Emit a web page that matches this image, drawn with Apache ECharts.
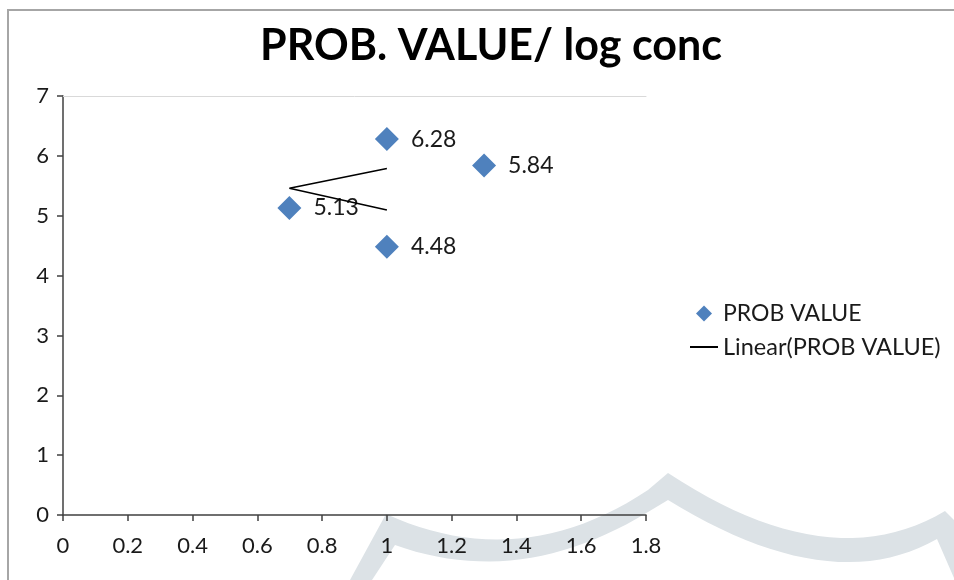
<!DOCTYPE html>
<html>
<head>
<meta charset="utf-8">
<script src="https://cdn.jsdelivr.net/npm/echarts@6/dist/echarts.min.js"></script>
<style>html,body{margin:0;padding:0;background:#fff}#c{width:954px;height:580px}</style>
</head>
<body>
<div id="c"></div>
<script>
// ---- data ----
var titleText = 'PROB. VALUE/ log conc';
var seriesName = 'PROB VALUE';
var trendName = 'Linear(PROB VALUE)';
var logConc = [0.699, 1, 1.3, 1];
var probValue = [5.13, 6.28, 5.84, 4.48];
var trendX = [1, 0.699, 1];
var trendY = [5.79, 5.46, 5.095];
var xTickLabels = ['0', '0.2', '0.4', '0.6', '0.8', '1', '1.2', '1.4', '1.6', '1.8'];
var yTickLabels = ['0', '1', '2', '3', '4', '5', '6', '7'];

var FONT = 'Lato';
var chart = echarts.init(document.getElementById('c'), null, {renderer: 'canvas'});

var scatterData = logConc.map(function (x, i) { return [x, probValue[i]]; });
var trendData = trendX.map(function (x, i) { return [x, trendY[i]]; });

// decorative background swoosh (not data)
function quad(pts, p0, c, p1) {
  for (var k = 1; k <= 24; k++) {
    var t = k / 24, u = 1 - t;
    pts.push([u * u * p0[0] + 2 * u * t * c[0] + t * t * p1[0],
              u * u * p0[1] + 2 * u * t * c[1] + t * t * p1[1]]);
  }
}
var sw = [[350, 580], [386, 514]];
quad(sw, [386, 514], [520, 575], [648, 490]);
sw.push([668, 473]);
quad(sw, [668, 473], [830, 580], [945, 511]);
sw.push([954, 520], [954, 578], [937, 539]);
quad(sw, [937, 539], [830, 600], [668, 500]);
sw.push([648, 512]);
quad(sw, [648, 512], [520, 590], [395, 545]);
sw.push([372, 580]);

var option = {
  backgroundColor: '#ffffff',
  animation: false,
  textStyle: {fontFamily: FONT},
  title: {
    text: titleText,
    left: 486, top: 20, textAlign: 'center',
    textStyle: {fontFamily: FONT, fontWeight: 'bold', fontSize: 43, color: '#000'}
  },
  legend: [{
    data: [{name: seriesName, icon: 'diamond'}],
    left: 696, top: 302, orient: 'vertical', padding: 0,
    itemWidth: 16, itemHeight: 16, itemGap: 6,
    textStyle: {fontFamily: FONT, fontSize: 23, color: '#1a1a1a', padding: [0, 0, 0, 6]}
  }, {
    data: [{name: trendName, icon: 'rect'}],
    left: 690, top: 335, orient: 'vertical', padding: 0,
    itemWidth: 28, itemHeight: 2, itemGap: 4,
    textStyle: {fontFamily: FONT, fontSize: 23.5, color: '#1a1a1a'}
  }],
  grid: {left: 63, right: 308, top: 96, bottom: 65, containLabel: false},
  xAxis: [{
    type: 'value', min: 0, max: 1.8, interval: 0.2,
    axisLine: {show: true, lineStyle: {color: '#404040', width: 1.5}},
    axisTick: {show: true, length: 6, lineStyle: {color: '#404040', width: 1.5}},
    axisLabel: {
      margin: 20, fontFamily: FONT, fontSize: 22, color: '#1a1a1a',
      formatter: function (v, i) { return xTickLabels[Math.round(v / 0.2)]; }
    },
    splitLine: {show: false}
  }, {
    type: 'value', min: 0, max: 1.8, position: 'top',
    axisLine: {show: true, onZero: false, lineStyle: {color: '#d9d9d9', width: 1}},
    axisTick: {show: false}, axisLabel: {show: false}, splitLine: {show: false}
  }],
  yAxis: {
    type: 'value', min: 0, max: 7, interval: 1,
    axisLine: {show: true, lineStyle: {color: '#404040', width: 1.5}},
    axisTick: {show: true, length: 6, lineStyle: {color: '#404040', width: 1.5}},
    axisLabel: {
      margin: 14, fontFamily: FONT, fontSize: 22, color: '#1a1a1a',
      formatter: function (v) { return yTickLabels[Math.round(v)]; }
    },
    splitLine: {show: false}
  },
  graphic: [{
    type: 'rect', z: -10, silent: true,
    shape: {x: 8, y: 10, width: 1000, height: 1000},
    style: {fill: 'none', stroke: '#a6a6a6', lineWidth: 2}
  }, {
    type: 'polygon', z: -5, silent: true,
    shape: {points: sw},
    style: {fill: '#dce2e6'}
  }],
  series: [{
    name: seriesName, type: 'scatter', xAxisIndex: 0,
    data: scatterData, symbol: 'diamond', symbolSize: 24,
    itemStyle: {color: '#4f81bd', opacity: 1},
    label: {
      show: true, position: 'right', distance: 12,
      fontFamily: FONT, fontSize: 23, color: '#1a1a1a',
      formatter: function (p) { return p.value[1].toFixed(2); }
    },
    z: 3
  }, {
    name: trendName, type: 'line', xAxisIndex: 0,
    data: trendData, symbol: 'none', smooth: false,
    lineStyle: {color: '#000', width: 1.6},
    itemStyle: {color: '#000'},
    z: 4
  }]
};
chart.setOption(option);
</script>
</body>
</html>
